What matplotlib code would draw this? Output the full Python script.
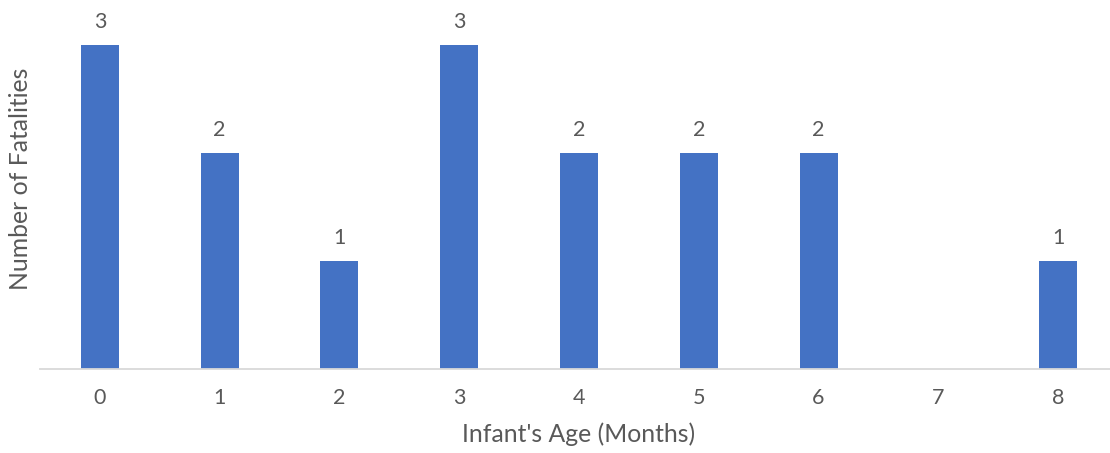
import matplotlib
matplotlib.use("Agg")
import matplotlib.pyplot as plt

ages = ["0", "1", "2", "3", "4", "5", "6", "7", "8"]
fatalities = [3, 2, 1, 3, 2, 2, 2, 0, 1]

plt.rcParams["font.family"] = ["Lato", "DejaVu Sans"]
text_color = "#595959"
bar_color = "#4472C4"

W, H = 1110, 453
fig = plt.figure(figsize=(W / 100, H / 100), dpi=100)
ax = fig.add_axes([40 / W, 84 / H, 1078 / W, 369 / H])

x = list(range(len(ages)))
ax.bar(x, fatalities, width=0.317, color=bar_color, zorder=2)
for xi, v in zip(x, fatalities):
    if v > 0:
        ax.annotate(str(v), (xi, v), xytext=(0, 9), textcoords="offset points",
                    ha="center", va="bottom", fontsize=15.5, color=text_color)

ax.set_xlim(-0.5, len(ages) - 0.5)
ax.set_ylim(0, 369 / 108)
ax.set_xticks(x)
ax.set_xticklabels(ages, fontsize=15.5, color=text_color)
ax.tick_params(axis="x", length=0, pad=14)
ax.set_yticks([])
for s in ["top", "right", "left"]:
    ax.spines[s].set_visible(False)
ax.spines["bottom"].set_color("#D9D9D9")
ax.spines["bottom"].set_linewidth(1.3)

ax.set_xlabel("Infant's Age (Months)", fontsize=17.8, color=text_color, labelpad=10)
fig.text(21 / W, 1 - 179 / H, "Number of Fatalities", rotation=90, ha="center",
         va="center", fontsize=17.8, color=text_color)

fig.savefig("out.png", dpi=100)
